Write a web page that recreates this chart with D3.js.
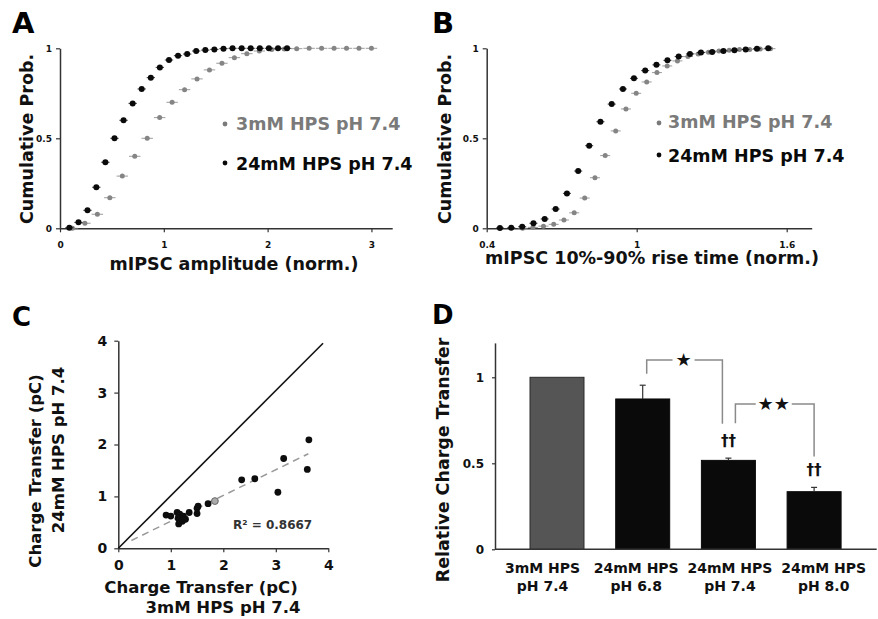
<!DOCTYPE html>
<html lang="en">
<head>
    <meta charset="UTF-8" />
    <title>HPS buffer mIPSC figure</title>
    <script src="https://d3js.org/d3.v7.min.js"></script>
    <style>
        body { margin: 0; background: #fff; }
        svg { display: block; background: #fff; }
        text { font-family: "DejaVu Sans", Verdana, sans-serif; font-weight: bold; }
    </style>
</head>
<body>
<script>
    // ---- data ----
    // A: cumulative distribution of mIPSC amplitude
    const ampX3 = [0.12, 0.24, 0.36, 0.48, 0.60, 0.72, 0.84, 0.96, 1.08, 1.20, 1.32, 1.44, 1.56,
                   1.68, 1.80, 1.92, 2.04, 2.16, 2.28, 2.40, 2.52, 2.64, 2.76, 2.88, 3.00];
    const ampY3 = [0, 0.028, 0.078, 0.17, 0.29, 0.40, 0.50, 0.615, 0.70, 0.77, 0.83, 0.88, 0.917,
                   0.948, 0.97, 0.985, 0.993, 0.996, 0.998, 1, 1, 1, 1, 1, 1];
    const ampX24 = [0.09, 0.178, 0.265, 0.35, 0.437, 0.525, 0.612, 0.70, 0.787, 0.875, 0.962, 1.05, 1.137,
                    1.225, 1.312, 1.40, 1.487, 1.575, 1.662, 1.75, 1.837, 1.925, 2.012, 2.10, 2.187];
    const ampY24 = [0.003, 0.033, 0.10, 0.228, 0.367, 0.50, 0.60, 0.694, 0.774, 0.837, 0.894, 0.935, 0.959,
                    0.968, 0.985, 0.99, 0.994, 0.998, 1, 1, 1, 1, 1, 1, 1];

    // B: cumulative distribution of 10-90% rise time
    const riseX3 = [0.544, 0.585, 0.627, 0.668, 0.709, 0.75, 0.792, 0.833, 0.874, 0.916, 0.957, 0.998, 1.04,
                    1.081, 1.122, 1.163, 1.205, 1.246, 1.287, 1.329, 1.37, 1.411, 1.452, 1.494, 1.535];
    const riseY3 = [0, 0.005, 0.012, 0.022, 0.046, 0.086, 0.168, 0.281, 0.404, 0.541, 0.663, 0.75, 0.813,
                    0.865, 0.902, 0.93, 0.954, 0.969, 0.978, 0.985, 0.989, 0.993, 0.994, 0.996, 0.998];
    const riseX24 = [0.453, 0.498, 0.542, 0.587, 0.632, 0.676, 0.721, 0.766, 0.81, 0.855, 0.9, 0.945, 0.989,
                     1.034, 1.079, 1.123, 1.168, 1.213, 1.257, 1.302, 1.347, 1.391, 1.436, 1.481, 1.526];
    const riseY24 = [0.002, 0.003, 0.009, 0.028, 0.052, 0.107, 0.194, 0.318, 0.459, 0.592, 0.69, 0.774, 0.833,
                     0.876, 0.908, 0.933, 0.954, 0.969, 0.976, 0.98, 0.985, 0.989, 0.994, 0.998, 1.0];

    const seriesNames = ["3mM HPS pH 7.4", "24mM HPS pH 7.4"];

    // C: charge transfer per cell, 3mM (x) vs 24mM (y)
    const chargeX = [0.91, 1.0, 1.12, 1.17, 1.14, 1.24, 1.22, 1.15, 1.28, 1.35, 1.5, 1.5, 1.52, 1.71,
                     2.35, 2.6, 3.04, 3.15, 3.6, 3.63];
    const chargeY = [0.64, 0.62, 0.69, 0.66, 0.58, 0.62, 0.52, 0.47, 0.56, 0.69, 0.67, 0.77, 0.81, 0.86,
                     1.32, 1.34, 1.08, 1.73, 1.52, 2.09];
    const chargeGray = [1.84, 0.91];
    const fitSlope = 0.496, fitIntercept = 0.026, fitRange = [0.25, 3.62];
    const r2Label = "R² = 0.8667";

    // D: relative charge transfer
    const barCats = [["3mM HPS", "pH 7.4"], ["24mM HPS", "pH 6.8"], ["24mM HPS", "pH 7.4"], ["24mM HPS", "pH 8.0"]];
    const barVals = [1.0, 0.874, 0.517, 0.335];
    const barErrs = [0, 0.08, 0.013, 0.025];
    const daggers = [null, null, "††", "††"];
    const brackets = [
        { from: 1, to: 2, top: 1.10, left: 1.02, right: 0.73, label: "★" },
        { from: 2, to: 3, top: 0.845, left: 0.733, right: 0.54, label: "★★" }
    ];

    const GRAY = "#858585", BLACK = "#0a0a0a", AXIS = "#333";

    const svg = d3.select("body").append("svg")
        .attr("width", 878)
        .attr("height", 619);

    function styleAxis(g, fs) {
        g.select(".domain").attr("stroke", AXIS).attr("stroke-width", 1.5);
        g.selectAll(".tick line").attr("stroke", AXIS).attr("stroke-width", 1.2);
        g.selectAll(".tick text")
            .attr("font-size", fs)
            .attr("font-family", "DejaVu Sans")
            .attr("font-weight", "bold")
            .attr("fill", "#111");
    }

    function panelLabel(t, x, y, fs) {
        svg.append("text").attr("x", x).attr("y", y).attr("font-size", fs).attr("fill", "#000").text(t);
    }

    function rotLabel(t, x, y, fs) {
        svg.append("text")
            .attr("transform", `translate(${x},${y}) rotate(-90)`)
            .attr("text-anchor", "middle")
            .attr("font-size", fs)
            .attr("fill", "#111")
            .text(t);
    }

    // draw a cumulative probability panel
    function cumPanel(opt) {
        const x = opt.x, y = opt.y;
        const g = svg.append("g");

        g.append("g").attr("transform", `translate(0,${y.range()[0]})`)
            .call(d3.axisBottom(x).tickValues(opt.xTicks).tickFormat(opt.xFormat)
                .tickSize(4).tickSizeOuter(0).tickPadding(9))
            .call(a => styleAxis(a, 9));
        g.append("g").attr("transform", `translate(${x.range()[0]},0)`)
            .call(d3.axisLeft(y).tickValues([0, 0.5, 1]).tickFormat(d3.format("~g"))
                .tickSize(4).tickSizeOuter(0).tickPadding(4))
            .call(a => styleAxis(a, 9));

        opt.series.forEach(s => {
            const pts = s.xs.map((v, i) => [v, s.ys[i]]);
            const sg = g.append("g");
            sg.selectAll("line").data(pts).enter().append("line")
                .attr("x1", d => x(d[0] - s.err)).attr("x2", d => x(d[0] + s.err))
                .attr("y1", d => y(d[1])).attr("y2", d => y(d[1]))
                .attr("stroke", s.color).attr("stroke-width", 1).attr("opacity", 0.8);
            sg.selectAll("circle").data(pts).enter().append("circle")
                .attr("cx", d => x(d[0])).attr("cy", d => y(d[1]))
                .attr("r", s.r).attr("fill", s.color);
        });

        // legend
        opt.legend.forEach((l, i) => {
            g.append("circle").attr("cx", l.dx).attr("cy", l.dy).attr("r", 2.4).attr("fill", l.color);
            g.append("text").attr("x", l.tx).attr("y", l.ty).attr("font-size", 17.5)
                .attr("fill", l.color).text(seriesNames[i]);
        });

        svg.append("text").attr("x", opt.titleX).attr("y", opt.titleY)
            .attr("text-anchor", "middle").attr("font-size", 17.5).attr("fill", "#111")
            .text(opt.title);
        rotLabel("Cumulative Prob.", opt.ylabX, 139, 17.5);
    }

    // ---- Panel A ----
    const xA = d3.scaleLinear().domain([0, 3.2]).range([60, 392.2]);
    const yA = d3.scaleLinear().domain([0, 1]).range([228.3, 48.3]);
    cumPanel({
        x: xA, y: yA, xTicks: [0, 1, 2, 3], xFormat: d3.format("d"),
        series: [
            { xs: ampX3, ys: ampY3, color: GRAY, r: 2.5, err: 0.055 },
            { xs: ampX24, ys: ampY24, color: BLACK, r: 3, err: 0.04 }
        ],
        legend: [
            { dx: 225, dy: 124, tx: 236, ty: 130, color: "#7a7a7a" },
            { dx: 225, dy: 163, tx: 236, ty: 170, color: BLACK }
        ],
        title: "mIPSC amplitude (norm.)", titleX: 234, titleY: 270, ylabX: 33
    });
    panelLabel("A", 12, 33, 29);

    // ---- Panel B ----
    const xB = d3.scaleLinear().domain([0.4, 1.7]).range([486.7, 811.7]);
    const yB = d3.scaleLinear().domain([0, 1]).range([228.3, 48.3]);
    cumPanel({
        x: xB, y: yB, xTicks: [0.4, 1, 1.6], xFormat: d3.format("~g"),
        series: [
            { xs: riseX3, ys: riseY3, color: GRAY, r: 2.5, err: 0.02 },
            { xs: riseX24, ys: riseY24, color: BLACK, r: 3, err: 0.016 }
        ],
        legend: [
            { dx: 659, dy: 123, tx: 668, ty: 128, color: "#7a7a7a" },
            { dx: 659, dy: 155, tx: 668, ty: 162, color: BLACK }
        ],
        title: "mIPSC 10%-90% rise time (norm.)", titleX: 652, titleY: 264, ylabX: 451
    });
    panelLabel("B", 432, 33, 29);

    // ---- Panel C ----
    const xC = d3.scaleLinear().domain([0, 4]).range([118.3, 328.3]);
    const yC = d3.scaleLinear().domain([0, 4]).range([548.3, 340.7]);
    const gC = svg.append("g");
    gC.append("g").attr("transform", `translate(0,${yC(0)})`)
        .call(d3.axisBottom(xC).ticks(4).tickFormat(d3.format("d")).tickSize(4).tickSizeOuter(0).tickPadding(8))
        .call(a => styleAxis(a, 14));
    gC.append("g").attr("transform", `translate(${xC(0)},0)`)
        .call(d3.axisLeft(yC).ticks(4).tickFormat(d3.format("d")).tickSize(4).tickSizeOuter(0).tickPadding(7))
        .call(a => styleAxis(a, 14));
    // identity line
    gC.append("line")
        .attr("x1", xC(0)).attr("y1", yC(0)).attr("x2", xC(3.9)).attr("y2", yC(3.95))
        .attr("stroke", "#111").attr("stroke-width", 1.6);
    // linear fit
    gC.append("line")
        .attr("x1", xC(fitRange[0])).attr("y1", yC(fitSlope * fitRange[0] + fitIntercept))
        .attr("x2", xC(fitRange[1])).attr("y2", yC(fitSlope * fitRange[1] + fitIntercept))
        .attr("stroke", "#999").attr("stroke-width", 1.5).attr("stroke-dasharray", "7,5");
    gC.selectAll("circle.pt").data(chargeX.map((v, i) => [v, chargeY[i]])).enter().append("circle")
        .attr("class", "pt")
        .attr("cx", d => xC(d[0])).attr("cy", d => yC(d[1])).attr("r", 3.4).attr("fill", "#0d0d0d");
    gC.append("circle").attr("cx", xC(chargeGray[0])).attr("cy", yC(chargeGray[1])).attr("r", 3.4)
        .attr("fill", "#aaa").attr("stroke", "#666").attr("stroke-width", 1);
    gC.append("text").attr("x", 233).attr("y", 529).attr("font-size", 12).attr("fill", "#333").text(r2Label);

    svg.append("text").attr("x", 201).attr("y", 593).attr("text-anchor", "middle")
        .attr("font-size", 16.5).attr("fill", "#111").text("Charge Transfer (pC)");
    svg.append("text").attr("x", 223).attr("y", 613).attr("text-anchor", "middle")
        .attr("font-size", 16.5).attr("fill", "#111").text("3mM HPS pH 7.4");
    rotLabel("Charge Transfer (pC)", 41, 471, 16.5);
    rotLabel("24mM HPS pH 7.4", 64, 450, 16.5);
    panelLabel("C", 12, 326, 26);

    // ---- Panel D ----
    const xD = d3.scaleBand().domain(d3.range(barVals.length)).range([530, 841.1])
        .paddingInner(0.37).paddingOuter(0);
    const yD = d3.scaleLinear().domain([0, 1.2]).range([549.3, 342.9]);
    const labD = d3.scalePoint().domain(d3.range(barVals.length)).range([542.5, 823.7]);
    const gD = svg.append("g");
    const cx = i => xD(i) + xD.bandwidth() / 2;

    gD.selectAll("rect.bar").data(barVals).enter().append("rect")
        .attr("class", "bar")
        .attr("x", (d, i) => xD(i)).attr("width", xD.bandwidth())
        .attr("y", d => yD(d)).attr("height", d => yD(0) - yD(d))
        .attr("fill", (d, i) => i === 0 ? "#555" : BLACK)
        .attr("stroke", (d, i) => i === 0 ? "#2a2a2a" : BLACK).attr("stroke-width", 1);

    // error bars (upper only)
    barVals.forEach((v, i) => {
        if (!barErrs[i]) return;
        gD.append("line").attr("x1", cx(i)).attr("x2", cx(i))
            .attr("y1", yD(v)).attr("y2", yD(v + barErrs[i])).attr("stroke", "#333").attr("stroke-width", 1.2);
        gD.append("line").attr("x1", cx(i) - 3).attr("x2", cx(i) + 3)
            .attr("y1", yD(v + barErrs[i])).attr("y2", yD(v + barErrs[i])).attr("stroke", "#333").attr("stroke-width", 1.2);
    });

    // axes
    gD.append("line").attr("x1", 495).attr("x2", 876.7).attr("y1", yD(0)).attr("y2", yD(0))
        .attr("stroke", AXIS).attr("stroke-width", 1.5);
    gD.append("g").attr("transform", "translate(495,0)")
        .call(d3.axisLeft(yD).tickValues([0, 0.5, 1]).tickFormat(d3.format("~g"))
            .tickSize(3).tickSizeOuter(0).tickPadding(8))
        .call(a => styleAxis(a, 12));

    // category labels
    barCats.forEach((c, i) => {
        const t = gD.append("text").attr("x", labD(i)).attr("y", 573).attr("text-anchor", "middle")
            .attr("font-size", 14).attr("fill", "#111");
        t.append("tspan").attr("x", labD(i)).text(c[0]);
        t.append("tspan").attr("x", labD(i)).attr("dy", 17.5).text(c[1]);
    });

    // daggers
    daggers.forEach((d, i) => {
        if (!d) return;
        gD.append("text").attr("x", cx(i)).attr("y", yD(barVals[i] + barErrs[i]) - 12)
            .attr("text-anchor", "middle").attr("font-size", 15).attr("fill", "#111").text(d);
    });

    // significance brackets
    const brOffsets = [[4, -6], [7, 0]];
    const gapHalf = [11, 18];
    brackets.forEach((b, k) => {
        const x1 = cx(b.from) + brOffsets[k][0], x2 = cx(b.to) + brOffsets[k][1];
        const ym = yD(b.top), mid = (x1 + x2) / 2 - 1;
        const path = d3.path();
        path.moveTo(x1, yD(b.left)); path.lineTo(x1, ym); path.lineTo(mid - gapHalf[k], ym);
        path.moveTo(mid + gapHalf[k], ym); path.lineTo(x2, ym); path.lineTo(x2, yD(b.right));
        gD.append("path").attr("d", path.toString()).attr("fill", "none")
            .attr("stroke", "#8a8a8a").attr("stroke-width", 1.5);
        gD.append("text").attr("x", mid).attr("y", ym + 6).attr("text-anchor", "middle")
            .attr("font-size", 18).attr("font-family", "DejaVu Sans").attr("fill", "#111").text(b.label);
    });

    rotLabel("Relative Charge Transfer", 449, 460, 17.5);
    panelLabel("D", 432, 324, 26);
</script>
</body>
</html>
